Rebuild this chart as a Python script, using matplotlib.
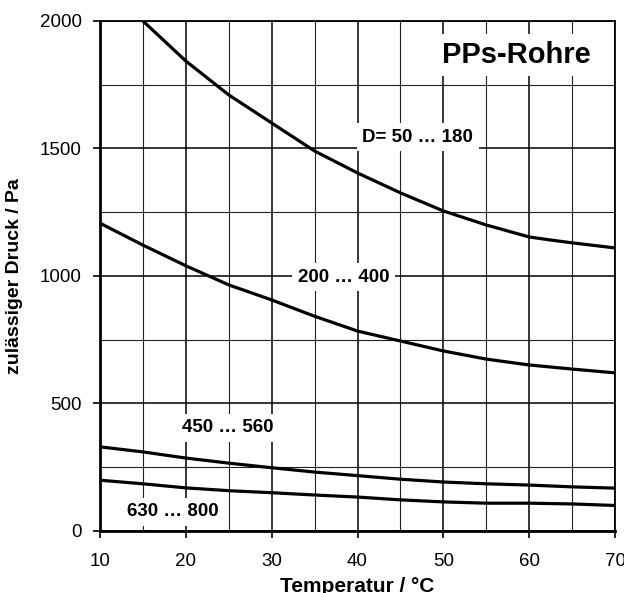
import matplotlib
matplotlib.use("Agg")
import matplotlib.pyplot as plt
from matplotlib.ticker import MultipleLocator

t_50_180 = [15, 20, 25, 30, 35, 40, 45, 50, 55, 60, 62.5, 65, 70]
p_50_180 = [2000, 1843, 1710, 1600, 1490, 1404, 1326, 1255, 1200, 1153, 1141, 1130, 1110]

t_all = [10, 15, 20, 25, 30, 35, 40, 45, 50, 55, 60, 65, 70]
p_200_400 = [1207, 1121, 1040, 965, 906, 842, 784, 745, 706, 674, 651, 635, 620]
p_450_560 = [330, 310, 286, 266, 248, 231, 217, 203, 192, 185, 180, 173, 168]
p_630_800 = [199, 185, 169, 158, 150, 141, 133, 122, 114, 109, 109, 106, 100]

curve_labels = ["D= 50 \u2026 180", "200 \u2026 400", "450 \u2026 560", "630 \u2026 800"]
label_pos = [(47.0, 1545), (38.4, 996), (24.9, 404), (18.45, 75)]

plt.rcParams["font.family"] = ["Liberation Sans", "DejaVu Sans"]

fig = plt.figure(figsize=(6.24, 5.93), dpi=100)
ax = fig.add_axes([0.1603, 0.1046, 0.8253, 0.86])

ax.set_xlim(10, 70)
ax.set_ylim(0, 2000)
ax.xaxis.set_major_locator(MultipleLocator(10))
ax.xaxis.set_minor_locator(MultipleLocator(5))
ax.yaxis.set_major_locator(MultipleLocator(500))
ax.yaxis.set_minor_locator(MultipleLocator(250))

ax.grid(which="major", color="black", lw=1.1)
ax.grid(which="minor", color="#222222", lw=0.8)
ax.set_axisbelow(True)

ax.tick_params(which="major", direction="out", length=5, width=1.2,
               labelsize=13.5, pad=8)
ax.tick_params(axis="x", which="major", pad=11)
ax.tick_params(which="minor", length=0)
for s in ax.spines.values():
    s.set_linewidth(1.3)
    s.set_color("black")
ax.spines["left"].set_linewidth(2)
ax.spines["bottom"].set_linewidth(2)

ax.plot(t_50_180, p_50_180, color="black", lw=2.3, zorder=3)
ax.plot(t_all, p_200_400, color="black", lw=2.3, zorder=3)
ax.plot(t_all, p_450_560, color="black", lw=2.3, zorder=3)
ax.plot(t_all, p_630_800, color="black", lw=2.3, zorder=3)

box = dict(boxstyle="square,pad=0.3", fc="white", ec="none")
for txt, (x, y) in zip(curve_labels, label_pos):
    ax.text(x, y, txt, ha="center", va="center", fontsize=13.5,
            fontweight="bold", bbox=box, zorder=4)

ax.text(58.5, 1867, "PPs-Rohre", ha="center", va="center", fontsize=21,
        fontweight="bold", bbox=dict(boxstyle="square,pad=0.25", fc="white", ec="none"),
        zorder=4)

ax.set_xlabel("Temperatur / \u00b0C", fontsize=15, fontweight="bold", labelpad=5)
ax.set_ylabel("zul\u00e4ssiger Druck / Pa", fontsize=14, fontweight="bold", labelpad=12)

fig.savefig("out.png", dpi=100)
